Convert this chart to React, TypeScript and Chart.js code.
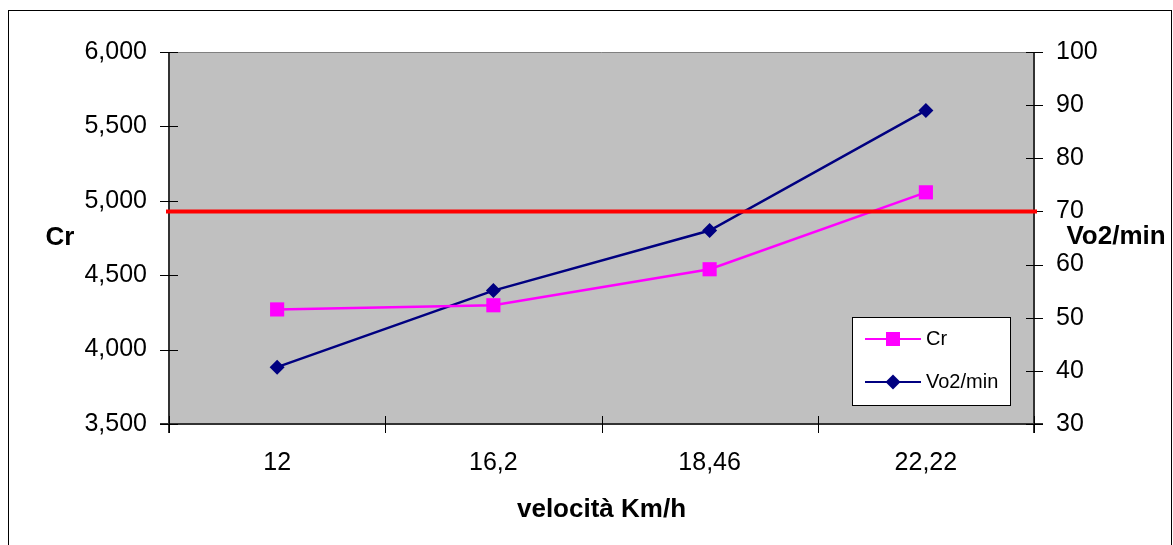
import React, { useEffect, useRef } from 'react';
import { Chart, registerables } from 'chart.js';

Chart.register(...registerables);

// ---- data ----
const categories = ['12', '16,2', '18,46', '22,22'];
const crValues = [4270, 4298, 4540, 5057];
const vo2Values = [40.7, 55.1, 66.4, 89.0];
const vo2Threshold = 70;
const leftAxisTitle = 'Cr';
const rightAxisTitle = 'Vo2/min';
const xAxisTitle = 'velocità Km/h';
const leftRange = [3500, 6000, 500];
const rightRange = [30, 100, 10];

const FONT = '"Liberation Sans", Arial, Helvetica, sans-serif';
const W = 1173;
const H = 545;

const decorPlugin = {
  id: 'decor',
  beforeDraw(chart: any) {
    const { ctx, chartArea: a } = chart;
    ctx.save();
    ctx.fillStyle = '#ffffff';
    ctx.fillRect(0, 0, chart.width, chart.height);
    // outer frame
    ctx.strokeStyle = '#000000';
    ctx.lineWidth = 1;
    ctx.strokeRect(8.5, 10.5, 1163, 600);
    // plot area
    ctx.fillStyle = '#C0C0C0';
    ctx.fillRect(a.left, a.top, a.right - a.left, a.bottom - a.top);
    ctx.strokeStyle = '#808080';
    ctx.beginPath();
    ctx.moveTo(a.left, a.top + 0.5);
    ctx.lineTo(a.right, a.top + 0.5);
    ctx.stroke();
    ctx.restore();
  },
  beforeDatasetsDraw(chart: any) {
    const { ctx, chartArea: a, scales } = chart;
    ctx.save();
    // axis lines
    ctx.strokeStyle = '#333333';
    ctx.lineWidth = 2;
    ctx.beginPath();
    ctx.moveTo(a.left, a.top);
    ctx.lineTo(a.left, a.bottom + 9);
    ctx.moveTo(a.right, a.top);
    ctx.lineTo(a.right, a.bottom + 9);
    ctx.moveTo(a.left - 9, a.bottom);
    ctx.lineTo(a.right + 9, a.bottom);
    ctx.stroke();
    // ticks
    ctx.strokeStyle = '#000000';
    ctx.lineWidth = 1;
    ctx.beginPath();
    const y = scales.y;
    y.ticks.forEach((t: any) => {
      const p = Math.round(y.getPixelForValue(t.value)) + 0.5;
      ctx.moveTo(a.left - 9, p);
      ctx.lineTo(a.left + 9, p);
    });
    const y1 = scales.y1;
    y1.ticks.forEach((t: any) => {
      const p = Math.round(y1.getPixelForValue(t.value)) + 0.5;
      ctx.moveTo(a.right - 8, p);
      ctx.lineTo(a.right + 9, p);
    });
    const x = scales.x;
    for (let i = 0; i <= categories.length; i++) {
      const p = Math.round(x.getPixelForValue(i - 0.5)) + 0.5;
      ctx.moveTo(p, a.bottom - 8);
      ctx.lineTo(p, a.bottom + 9);
    }
    ctx.stroke();
    ctx.restore();
  },
  afterDatasetsDraw(chart: any) {
    const { ctx, chartArea: a, scales } = chart;
    ctx.save();
    const p = scales.y1.getPixelForValue(vo2Threshold);
    ctx.strokeStyle = '#FF0000';
    ctx.lineWidth = 4;
    ctx.beginPath();
    ctx.moveTo(a.left - 3, p);
    ctx.lineTo(a.right + 3, p);
    ctx.stroke();
    ctx.restore();
  },
  afterDraw(chart: any) {
    const { ctx } = chart;
    ctx.save();
    // y-axis titles (horizontal)
    ctx.fillStyle = '#000000';
    ctx.font = `bold 26px ${FONT}`;
    ctx.textAlign = 'center';
    ctx.textBaseline = 'middle';
    ctx.fillText(leftAxisTitle, 60, 238);
    ctx.fillText(rightAxisTitle, 1116, 237);

    // legend
    const bx = 852.5, by = 317.5, bw = 158, bh = 88;
    ctx.fillStyle = '#ffffff';
    ctx.fillRect(bx, by, bw, bh);
    ctx.strokeStyle = '#000000';
    ctx.lineWidth = 1;
    ctx.strokeRect(bx, by, bw, bh);
    chart.data.datasets.forEach((ds: any, i: number) => {
      const ly = 339 + i * 43;
      ctx.strokeStyle = ds.borderColor;
      ctx.lineWidth = 2;
      ctx.beginPath();
      ctx.moveTo(865, ly);
      ctx.lineTo(921, ly);
      ctx.stroke();
      ctx.fillStyle = ds.pointBackgroundColor;
      ctx.beginPath();
      if (ds.pointStyle === 'rect') {
        ctx.rect(893 - 7, ly - 7, 14, 14);
      } else {
        ctx.moveTo(893 - 7.5, ly);
        ctx.lineTo(893, ly - 7.5);
        ctx.lineTo(893 + 7.5, ly);
        ctx.lineTo(893, ly + 7.5);
        ctx.closePath();
      }
      ctx.fill();
      ctx.fillStyle = '#000000';
      ctx.font = `20px ${FONT}`;
      ctx.textAlign = 'left';
      ctx.textBaseline = 'middle';
      ctx.fillText(ds.label, 926, ly);
    });
    ctx.restore();
  },
};

export default function App() {
  const ref = useRef<HTMLCanvasElement | null>(null);

  useEffect(() => {
    if (!ref.current) return;
    const chart = new Chart(ref.current, {
      type: 'line',
      data: {
        labels: categories,
        datasets: [
          {
            label: 'Cr',
            data: crValues,
            yAxisID: 'y',
            borderColor: '#FF00FF',
            backgroundColor: '#FF00FF',
            pointBackgroundColor: '#FF00FF',
            pointBorderColor: '#FF00FF',
            pointBorderWidth: 0,
            pointStyle: 'rect',
            pointRadius: 10,
            borderWidth: 2.5,
            tension: 0,
          },
          {
            label: 'Vo2/min',
            data: vo2Values,
            yAxisID: 'y1',
            borderColor: '#000080',
            backgroundColor: '#000080',
            pointBackgroundColor: '#000080',
            pointBorderColor: '#000080',
            pointBorderWidth: 0,
            pointStyle: 'rectRot',
            pointRadius: 7.5,
            borderWidth: 2.5,
            tension: 0,
          },
        ],
      },
      options: {
        responsive: false,
        animation: false,
        devicePixelRatio: 1,
        layout: { padding: { top: 52, left: 0, right: 0, bottom: 0 } },
        plugins: {
          legend: { display: false },
          tooltip: { enabled: false },
        },
        scales: {
          x: {
            type: 'category',
            offset: true,
            grid: { display: false, drawTicks: false },
            border: { display: false },
            ticks: {
              color: '#000000',
              font: { family: FONT, size: 25 },
              padding: 24,
              maxRotation: 0,
              autoSkip: false,
            },
            title: {
              display: true,
              text: xAxisTitle,
              color: '#000000',
              font: { family: FONT, size: 26, weight: 'bold' },
              padding: { top: 0, bottom: 20 },
            },
            afterFit(scale: any) {
              scale.height = 121;
            },
          },
          y: {
            type: 'linear',
            position: 'left',
            min: leftRange[0],
            max: leftRange[1],
            grid: { display: false, drawTicks: false },
            border: { display: false },
            ticks: {
              stepSize: leftRange[2],
              color: '#000000',
              font: { family: FONT, size: 25 },
              padding: 22,
              callback: (v: any) => Number(v).toLocaleString('en-US'),
            },
            afterFit(scale: any) {
              scale.width = 169;
            },
          },
          y1: {
            type: 'linear',
            position: 'right',
            min: rightRange[0],
            max: rightRange[1],
            grid: { display: false, drawTicks: false },
            border: { display: false },
            ticks: {
              stepSize: rightRange[2],
              color: '#000000',
              font: { family: FONT, size: 25 },
              padding: 22,
            },
            afterFit(scale: any) {
              scale.width = W - 1034;
            },
          },
        },
      },
      plugins: [decorPlugin],
    } as any);
    return () => chart.destroy();
  }, []);

  return (
    <div style={{ position: 'absolute', left: 0, top: 0, width: W, height: H, background: '#fff' }}>
      <canvas ref={ref} width={W} height={H} style={{ display: 'block', width: W, height: H }} />
    </div>
  );
}
